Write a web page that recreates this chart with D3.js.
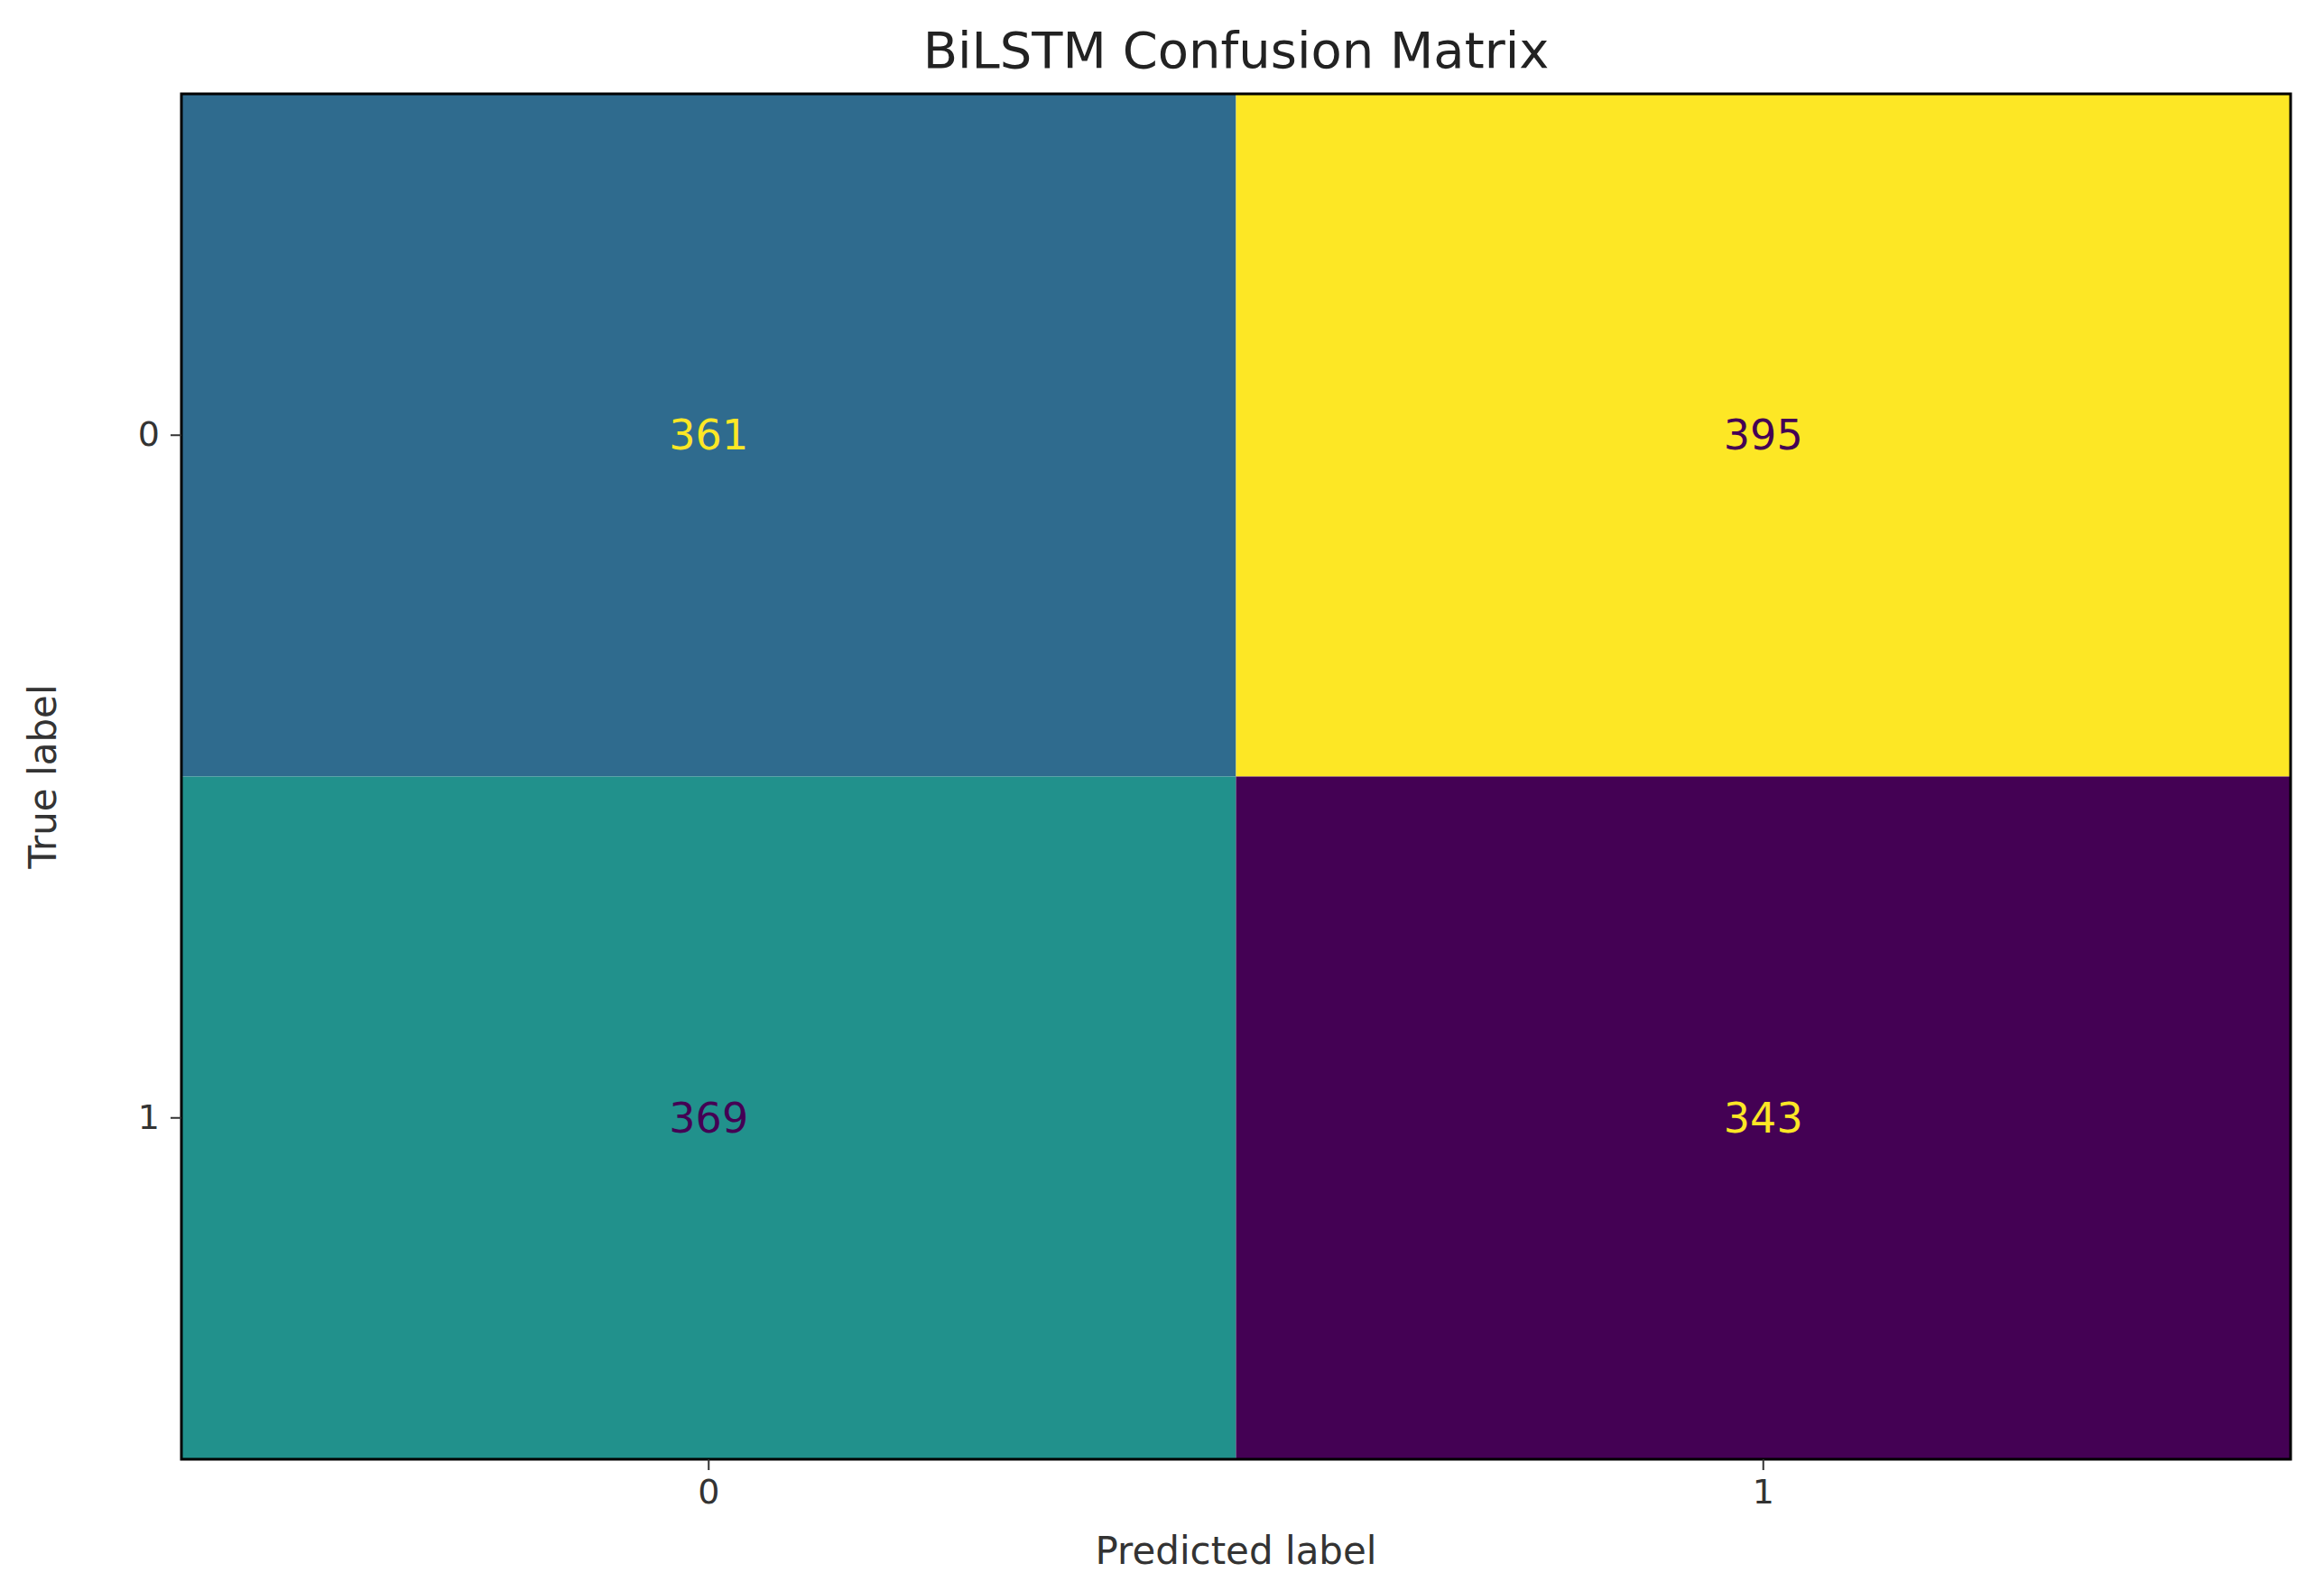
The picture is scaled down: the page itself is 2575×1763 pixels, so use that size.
<!DOCTYPE html>
<html><head><meta charset="utf-8">
<script src="https://cdn.jsdelivr.net/npm/d3@7"></script>
<style>body{margin:0;background:#fff}</style>
</head><body><div id="chart"></div>
<script>
const classes = ["0", "1"];
const matrix = [
  [361, 395],
  [369, 343]
];
const title = "BiLSTM Confusion Matrix";

const W = 2575, H = 1763;
const margin = { top: 104, right: 37, bottom: 146, left: 201 };
const iw = W - margin.left - margin.right, ih = H - margin.top - margin.bottom;
const font = "'DejaVu Sans', sans-serif";

const svg = d3.select("#chart").append("svg").attr("width", W).attr("height", H);
const g = svg.append("g").attr("transform", `translate(${margin.left},${margin.top})`);

const x = d3.scaleBand().domain(classes).range([0, iw]);
const y = d3.scaleBand().domain(classes).range([0, ih]);
const flat = matrix.flat();
const color = d3.scaleSequential(d3.interpolateViridis).domain([d3.min(flat), d3.max(flat)]);
const mid = (d3.min(flat) + d3.max(flat)) / 2;

const cells = [];
matrix.forEach((row, i) => row.forEach((v, j) => cells.push({ r: classes[i], c: classes[j], v })));

g.selectAll("rect.cell").data(cells).join("rect")
  .attr("x", d => x(d.c)).attr("y", d => y(d.r))
  .attr("width", x.bandwidth()).attr("height", y.bandwidth())
  .attr("fill", d => color(d.v));

g.selectAll("text.val").data(cells).join("text")
  .attr("x", d => x(d.c) + x.bandwidth() / 2).attr("y", d => y(d.r) + y.bandwidth() / 2)
  .attr("dy", "0.35em").attr("text-anchor", "middle")
  .attr("font-family", font).attr("font-size", 46)
  .attr("fill", d => d.v < mid ? color.range ? d3.interpolateViridis(1) : "#fde725" : d3.interpolateViridis(0))
  .text(d => d.v);

g.append("rect").attr("width", iw).attr("height", ih)
  .attr("fill", "none").attr("stroke", "#000").attr("stroke-width", 3);

const xAxis = g.append("g").attr("transform", `translate(0,${ih})`)
  .call(d3.axisBottom(x).tickSize(12).tickPadding(10));
const yAxis = g.append("g").call(d3.axisLeft(y).tickSize(12).tickPadding(12));
[xAxis, yAxis].forEach(a => {
  a.select(".domain").remove();
  a.selectAll(".tick line").attr("stroke", "#333").attr("stroke-width", 2);
  a.selectAll("text").attr("font-family", font).attr("font-size", 38).attr("fill", "#333");
});

svg.append("text").attr("x", margin.left + iw / 2).attr("y", 75)
  .attr("text-anchor", "middle").attr("font-family", font).attr("font-size", 56)
  .attr("fill", "#222").text(title);
svg.append("text").attr("x", margin.left + iw / 2).attr("y", 1733)
  .attr("text-anchor", "middle").attr("font-family", font).attr("font-size", 42)
  .attr("fill", "#333").text("Predicted label");
svg.append("text").attr("transform", `translate(62,${margin.top + ih / 2}) rotate(-90)`)
  .attr("text-anchor", "middle").attr("font-family", font).attr("font-size", 42)
  .attr("fill", "#333").text("True label");
</script></body></html>
